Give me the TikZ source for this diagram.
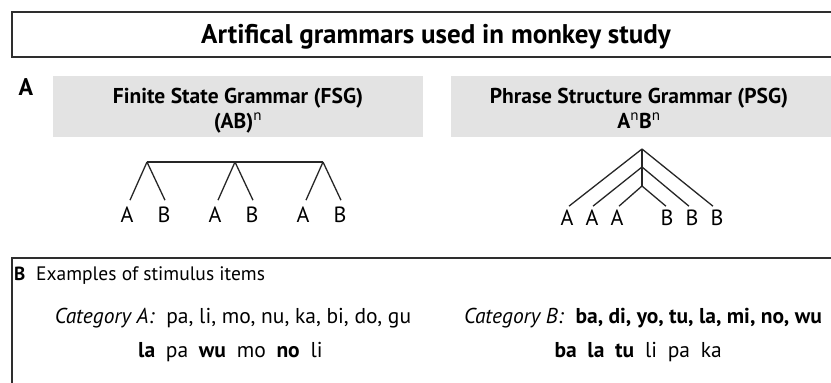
\documentclass[tikz,border=0pt]{standalone}
\usepackage{fontspec}
\setmainfont{PT Sans}
\definecolor{boxgray}{HTML}{E3E3E3}
\definecolor{framegray}{HTML}{2E2E2E}
\newcommand{\wgap}{\hspace{0.5em}}
\tikzset{
  frame/.style={draw=framegray, line width=1.6pt},
  branch/.style={draw=black!85, line width=1.3pt},
  leaf/.style={font=\fontsize{22}{26}\selectfont, inner sep=0pt, anchor=base},
  item/.style={font=\fontsize{21.5}{25}\selectfont, inner sep=0pt, anchor=base},
  heading/.style={font=\fontsize{21.5}{25}\bfseries, inner sep=0pt, anchor=base},
}
\begin{document}
\begin{tikzpicture}[x=1pt, y=-1pt]
    \useasboundingbox (0,0) rectangle (831,383);

    % title
    \draw[frame] (835,12) -- (12,12) -- (12,57) -- (835,57);
    \node[anchor=base, inner sep=0pt, font=\fontsize{27}{32}\bfseries] (title) at (436,43) {Artifical grammars used in monkey study};

    % part A
    \node[anchor=base, inner sep=0pt, font=\fontsize{24}{28}\bfseries] (labA) at (26,95) {A};
    \fill[boxgray] (53,76) rectangle (423,137);
    \fill[boxgray] (451,76) rectangle (835,137);
    \node[heading] (fsg) at (238,103) {Finite State Grammar (FSG)};
    \node[heading] (fsgrule) at (238,128) {(AB)\textsuperscript{\mdseries n}};
    \node[heading] (psg) at (639,103) {Phrase Structure Grammar (PSG)};
    \node[heading] (psgrule) at (639,128) {A\textsuperscript{\mdseries n}B\textsuperscript{\mdseries n}};

    % (AB)^n tree
    \foreach \x/\i in {147/1, 235/2, 323/3} {
        \coordinate (f\i) at (\x,162);
        \node[leaf] (fa\i) at (\x-20,222) {A};
        \node[leaf] (fb\i) at (\x+17,222) {B};
        \draw[branch] (f\i) -- ([xshift=3pt, yshift=6pt]fa\i.north);
        \draw[branch] (f\i) -- ([xshift=1pt, yshift=6pt]fb\i.north);
    }
    \draw[branch] (f1) -- (f3);

    % A^nB^n tree
    \coordinate (p1) at (642,149);
    \coordinate (p2) at (642,167);
    \coordinate (p3) at (642,186);
    \foreach \i/\x in {1/567, 2/592, 3/617} {
        \node[leaf] (pa\i) at (\x,225) {A};
    }
    \foreach \i/\x in {1/667, 2/692, 3/717} {
        \node[leaf] (pb\i) at (\x,225) {B};
    }
    \draw[branch] (p1) -- (p3);
    \draw[branch] (p1) -- ([xshift=2pt, yshift=3pt]pa1.north);
    \draw[branch] (p2) -- ([xshift=1pt, yshift=3pt]pa2.north);
    \draw[branch] (p3) -- ([xshift=2pt, yshift=3pt]pa3.north);
    \draw[branch] (p3) -- ([xshift=-1pt, yshift=3pt]pb1.north);
    \draw[branch] (p2) -- ([xshift=-3pt, yshift=3pt]pb2.north);
    \draw[branch] (p1) -- ([xshift=-4pt, yshift=3pt]pb3.north);

    % part B
    \draw[frame] (835,258) -- (12,258) -- (12,390);
    \node[anchor=base west, inner sep=0pt, font=\fontsize{19}{23}\bfseries] (labB) at (14,280) {B};
    \node[item, anchor=base west, font=\fontsize{19.5}{23}\selectfont] (examples) at (36,280) {Examples of stimulus items};
    \node[item] (cata) at (233,323) {\textit{Category A:}\ \ pa, li, mo, nu, ka, bi, do, gu};
    \node[item] (catb) at (643,323) {\textit{Category B:}\ \ \textbf{ba, di, yo, tu, la, mi, no, wu}};
    \node[item, anchor=base west] (seqa) at (138,357) {\textbf{la}\wgap pa\wgap \textbf{wu}\wgap mo\wgap \textbf{no}\wgap li};
    \node[item, anchor=base east] (seqb) at (722,357) {\textbf{ba}\wgap \textbf{la}\wgap \textbf{tu}\wgap li\wgap pa\wgap ka};
\end{tikzpicture}
\end{document}
